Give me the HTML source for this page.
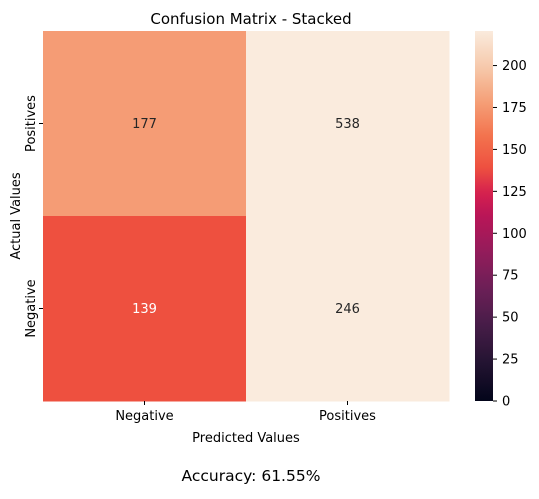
<!DOCTYPE html>
<html><head><meta charset="utf-8"><style>
body{margin:0;background:#fff;font-family:"Liberation Sans","DejaVu Sans",sans-serif;}
svg text{font-family:"DejaVu Sans","Liberation Sans",sans-serif;}
</style></head><body>
<svg id="c" width="539" height="494" xmlns="http://www.w3.org/2000/svg">
<defs><linearGradient id="cbg" x1="0" y1="1" x2="0" y2="0"></linearGradient></defs>
<text x="251" y="24" font-size="15" text-anchor="middle" fill="#000">Confusion Matrix - Stacked</text>
<text x="246" y="442" font-size="13" text-anchor="middle" fill="#000">Predicted Values</text>
<text transform="translate(20,216) rotate(-90)" font-size="13" text-anchor="middle" fill="#000">Actual Values</text>
<text x="251" y="481" font-size="15.5" text-anchor="middle" fill="#000">Accuracy: 61.55%</text>
</svg>
<script>
const xCats=["Negative","Positives"];
const yCats=["Positives","Negative"];
const values=[[177,538],[139,246]];
const cbTicks=[0,25,50,75,100,125,150,175,200];
const vmin=0, vmax=220.6;
const stops=[[0,"#03051A"],[0.1,"#221331"],[0.2,"#451C47"],[0.3,"#6A1F56"],[0.4,"#921C5B"],[0.5,"#B91657"],[0.56,"#D41F4F"],[0.63,"#EE503F"],[0.72,"#F3744F"],[0.81,"#F5A078"],[0.9,"#F6C8AA"],[1,"#FAEBDD"]];
function hex(h){return [1,3,5].map(i=>parseInt(h.substr(i,2),16));}
function cmap(v){let t=Math.max(0,Math.min(1,(v-vmin)/(vmax-vmin)));
for(let i=1;i<stops.length;i++){if(t<=stops[i][0]){const a=stops[i-1],b=stops[i];const f=(t-a[0])/(b[0]-a[0]);const A=hex(a[1]),B=hex(b[1]);return `rgb(${A.map((c,k)=>Math.round(c+(B[k]-c)*f)).join(",")})`;}}return stops[stops.length-1][1];}
const NS="http://www.w3.org/2000/svg",svg=document.getElementById("c");
function el(t,a,p){const e=document.createElementNS(NS,t);for(const k in a)e.setAttribute(k,a[k]);(p||svg).appendChild(e);return e;}
const X0=43,X1=449,Y0=31,Y1=401;
const cw=(X1-X0)/xCats.length, ch=(Y1-Y0)/yCats.length;
values.forEach((row,r)=>row.forEach((v,c)=>{
const rc=el("rect",{x:X0+c*cw,y:Y0+r*ch,width:cw+0.5,height:ch+0.5,fill:cmap(v)});


const t=(v-vmin)/(vmax-vmin);
const tx=el("text",{x:X0+c*cw+cw/2,y:Y0+r*ch+ch/2+4.5,"font-size":"13","text-anchor":"middle",fill:t>0.7?"#262626":"#fff"});
tx.textContent=v;


}));
xCats.forEach((c,i)=>{const x=X0+i*cw+cw/2;el("line",{x1:x,x2:x,y1:Y1,y2:Y1+4,stroke:"#000"});
const t=el("text",{x:x,y:Y1+19,"font-size":"13","text-anchor":"middle"});t.textContent=c;

});
yCats.forEach((c,i)=>{const y=Y0+i*ch+ch/2;el("line",{x1:X0-4,x2:X0,y1:y,y2:y,stroke:"#000"});
const t=el("text",{transform:`translate(${X0-8},${y}) rotate(-90)`,"font-size":"13","text-anchor":"middle"});t.textContent=c;

});
const g=document.getElementById("cbg");
for(let i=0;i<=60;i++){el("stop",{offset:i/60,"stop-color":cmap(vmin+(vmax-vmin)*i/60)},g);}
const CX=475,CW=18,CT=31,CB=401;
const cb=el("rect",{x:CX,y:CT,width:CW,height:CB-CT,fill:"url(#cbg)"});


function cy(v){return CB-(v-vmin)/(vmax-vmin)*(CB-CT);}
cbTicks.forEach(v=>{const y=cy(v);el("line",{x1:CX+CW,x2:CX+CW+4,y1:y,y2:y,stroke:"#000"});
const t=el("text",{x:CX+CW+9,y:y+4.5,"font-size":"13"});t.textContent=v;

});
</script>
</body></html>
